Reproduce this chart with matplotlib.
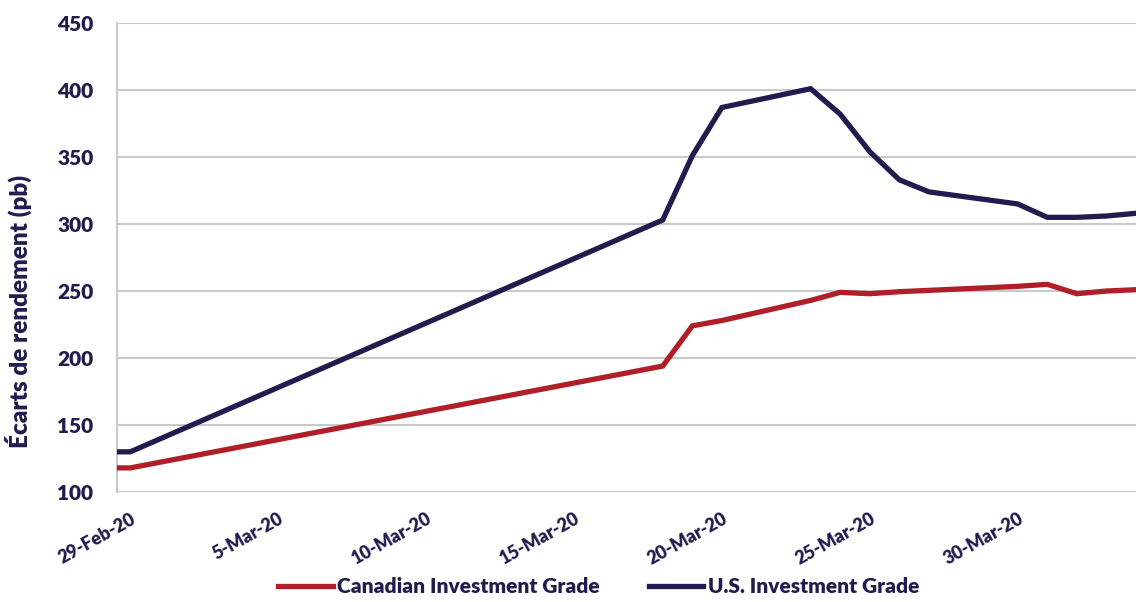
import datetime as dt

import matplotlib
matplotlib.use("Agg")
import matplotlib.pyplot as plt
import matplotlib.dates as mdates

WEIGHT = 800
plt.rcParams["font.family"] = "Lato"
plt.rcParams["font.weight"] = WEIGHT
plt.rcParams["axes.labelweight"] = WEIGHT

DATES = [
    "2020-02-28", "2020-02-29", "2020-03-18", "2020-03-19", "2020-03-20",
    "2020-03-23", "2020-03-24", "2020-03-25", "2020-03-26", "2020-03-27",
    "2020-03-30", "2020-03-31", "2020-04-01", "2020-04-02", "2020-04-03",
]
CANADA_IG = [118, 118, 194, 224, 228, 243, 249, 248, 249.5, 250.5, 253.5, 255, 248, 250, 251]
US_IG = [130, 130, 303, 351, 387, 401, 382, 354, 333, 324, 315, 305, 305, 306, 308]
TICK_DATES = ["2020-02-29", "2020-03-05", "2020-03-10", "2020-03-15",
              "2020-03-20", "2020-03-25", "2020-03-30"]
TICK_LABELS = ["29-Feb-20", "5-Mar-20", "10-Mar-20", "15-Mar-20",
               "20-Mar-20", "25-Mar-20", "30-Mar-20"]
Y_TICKS = [100, 150, 200, 250, 300, 350, 400, 450]

NAVY = "#201d4e"
RED = "#b01f28"
GRID = "#c9c9c9"

dates = [dt.datetime.strptime(d, "%Y-%m-%d") for d in DATES]
ticks = [dt.datetime.strptime(d, "%Y-%m-%d") for d in TICK_DATES]

fig = plt.figure(figsize=(11.36, 6.02), dpi=100)
ax = fig.add_axes([0.103, 0.1827, 0.897, 0.779])

ax.plot(dates, CANADA_IG, color=RED, lw=3.8, solid_joinstyle="miter",
        label="Canadian Investment Grade", zorder=3)
ax.plot(dates, US_IG, color=NAVY, lw=3.8, solid_joinstyle="miter",
        label="U.S. Investment Grade", zorder=3)

x0 = mdates.date2num(ticks[0]) - 0.45
x1 = mdates.date2num(dates[-1])
ax.set_xlim(x0, x1)
ax.set_ylim(100, 450)
ax.set_yticks(Y_TICKS)
ax.set_xticks(ticks)
ax.set_xticklabels(TICK_LABELS, rotation=29, ha="right", rotation_mode="anchor",
                   fontweight=WEIGHT)
for lbl in ax.get_yticklabels():
    lbl.set_fontweight(WEIGHT)

ax.grid(True, axis="y", color=GRID, lw=1.5)
ax.set_axisbelow(True)
for side in ["top", "right", "bottom"]:
    ax.spines[side].set_visible(False)
ax.spines["left"].set_color(GRID)
ax.spines["left"].set_linewidth(1.5)
ax.tick_params(axis="both", length=0, colors=NAVY)
ax.tick_params(axis="y", labelsize=15, pad=17)
ax.tick_params(axis="x", labelsize=13, pad=13)

ax.set_ylabel("Écarts de rendement (pb)", fontsize=17.5, color=NAVY,
              fontweight=WEIGHT)
ax.yaxis.set_label_coords(-0.083, 0.384)

fig.legend(loc="lower center", bbox_to_anchor=(0.527, -0.022), ncol=2, frameon=False,
           handlelength=2.6, handletextpad=0.2, columnspacing=2.4,
           labelcolor=NAVY, prop={"family": "Lato", "weight": WEIGHT, "size": 15})

fig.savefig("out.png", dpi=100)
